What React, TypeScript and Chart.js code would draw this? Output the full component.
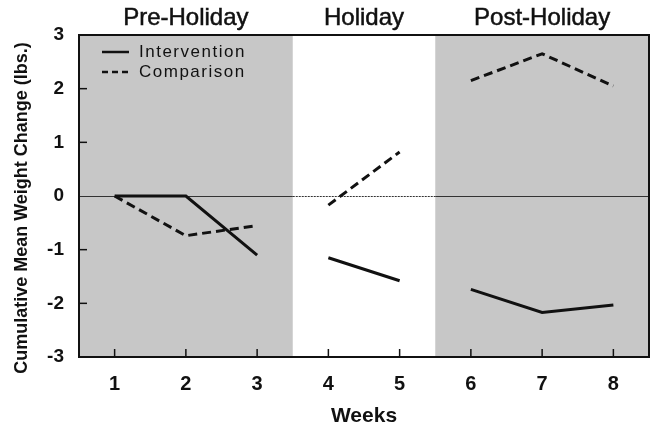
import { useEffect, useRef } from 'react';
import { Chart, registerables } from 'chart.js';
Chart.register(...registerables);

const weeks = [1, 2, 3, 4, 5, 6, 7, 8];
const phaseNames = ['Pre-Holiday', 'Holiday', 'Post-Holiday'];
const phaseWeeks = [[1, 2, 3], [4, 5], [6, 7, 8]];
const phaseShaded = [true, false, true];
const intervention = [0, 0, -1.1, -1.15, -1.58, -1.74, -2.17, -2.03];
const comparison = [0, -0.74, -0.55, -0.17, 0.82, 2.15, 2.65, 2.05];
const yTicks = [-3, -2, -1, 0, 1, 2, 3];
const seriesNames = ['Intervention', 'Comparison'];
const xTitle = 'Weeks';
const yTitle = 'Cumulative Mean Weight Change (lbs.)';

const FONT = '"Liberation Sans", Arial, Helvetica, sans-serif';
const GRAY = '#c7c7c7';

function buildPoints(values: number[]) {
  const pts: { x: number; y: number | null }[] = [];
  phaseWeeks.forEach((ws, pi) => {
    ws.forEach((w) => pts.push({ x: w, y: values[weeks.indexOf(w)] }));
    if (pi < phaseWeeks.length - 1) pts.push({ x: ws[ws.length - 1] + 0.5, y: null });
  });
  return pts;
}

const decor = {
  id: 'decor',
  beforeDatasetsDraw(chart: any) {
    const { ctx, chartArea: a, scales } = chart;
    const x = scales.x, y = scales.y;
    ctx.save();
    phaseWeeks.forEach((ws, i) => {
      if (!phaseShaded[i]) return;
      const l = x.getPixelForValue(ws[0] - 0.5);
      const r = x.getPixelForValue(ws[ws.length - 1] + 0.5);
      ctx.fillStyle = GRAY;
      ctx.fillRect(l, a.top, r - l, a.bottom - a.top);
    });
    const y0 = Math.round(y.getPixelForValue(0)) + 0.5;
    phaseWeeks.forEach((ws, i) => {
      const l = x.getPixelForValue(ws[0] - 0.5);
      const r = x.getPixelForValue(ws[ws.length - 1] + 0.5);
      ctx.beginPath();
      ctx.strokeStyle = '#333';
      ctx.lineWidth = 1;
      ctx.setLineDash(phaseShaded[i] ? [] : [2, 1]);
      ctx.moveTo(l, y0);
      ctx.lineTo(r, y0);
      ctx.stroke();
    });
    ctx.setLineDash([]);
    ctx.restore();
  },
  afterDatasetsDraw(chart: any) {
    const { ctx, chartArea: a, scales } = chart;
    const x = scales.x, y = scales.y;
    ctx.save();
    ctx.strokeStyle = '#111';
    ctx.lineWidth = 2;
    ctx.beginPath();
    ctx.moveTo(a.left, a.top);
    ctx.lineTo(a.right, a.top);
    ctx.lineTo(a.right, a.bottom);
    ctx.lineTo(a.left, a.bottom);
    ctx.closePath();
    ctx.stroke();
    ctx.lineWidth = 1.5;
    yTicks.forEach((v) => {
      if (v === 3 || v === -3 || v === 0) return;
      const py = y.getPixelForValue(v);
      ctx.beginPath();
      ctx.moveTo(a.left, py);
      ctx.lineTo(a.left + 8, py);
      ctx.stroke();
    });
    weeks.forEach((w) => {
      const px = x.getPixelForValue(w);
      ctx.beginPath();
      ctx.moveTo(px, a.bottom);
      ctx.lineTo(px, a.bottom - 8);
      ctx.stroke();
    });
    // phase headers
    ctx.fillStyle = '#111';
    ctx.strokeStyle = '#111';
    ctx.font = `24px ${FONT}`;
    ctx.textAlign = 'center';
    ctx.textBaseline = 'middle';
    ctx.lineWidth = 0.5;
    phaseWeeks.forEach((ws, i) => {
      const c = x.getPixelForValue((ws[0] + ws[ws.length - 1]) / 2);
      ctx.fillText(phaseNames[i], c, 18);
      ctx.strokeText(phaseNames[i], c, 18);
    });
    // axis titles
    ctx.font = `bold 21px ${FONT}`;
    ctx.fillText(xTitle, (a.left + a.right) / 2, 416);
    ctx.save();
    ctx.translate(22, 208);
    ctx.rotate(-Math.PI / 2);
    ctx.font = `bold 18px ${FONT}`;
    ctx.fillText(yTitle, 0, 0);
    ctx.restore();
    // legend
    const lx = a.left + 23;
    ctx.font = `17px ${FONT}`;
    (ctx as any).letterSpacing = '1.5px';
    ctx.textAlign = 'left';
    seriesNames.forEach((n, i) => {
      const ly = a.top + 17 + i * 20;
      ctx.beginPath();
      ctx.lineWidth = 2.5;
      ctx.setLineDash(i === 0 ? [] : [6, 4]);
      ctx.moveTo(lx, ly);
      ctx.lineTo(lx + 27, ly);
      ctx.stroke();
      ctx.setLineDash([]);
      ctx.fillText(n, lx + 37, ly);
    });
    ctx.restore();
  },
};

export default function App() {
  const ref = useRef<HTMLCanvasElement>(null);
  useEffect(() => {
    document.body.style.margin = '0';
    const chart = new Chart(ref.current!, {
      type: 'line',
      data: {
        datasets: [
          {
            label: seriesNames[0],
            data: buildPoints(intervention) as any,
            borderColor: '#111',
            borderWidth: 3,
            pointRadius: 0,
            spanGaps: false,
            tension: 0,
          },
          {
            label: seriesNames[1],
            data: buildPoints(comparison) as any,
            borderColor: '#111',
            borderWidth: 3,
            borderDash: [9, 5],
            pointRadius: 0,
            spanGaps: false,
            tension: 0,
          },
        ],
      },
      options: {
        responsive: false,
        animation: false,
        layout: { padding: { top: 35, right: 3, left: 0, bottom: 0 } },
        plugins: { legend: { display: false }, tooltip: { enabled: false } },
        scales: {
          x: {
            type: 'linear',
            min: 0.5,
            max: 8.5,
            afterBuildTicks: (s: any) => { s.ticks = weeks.map((v) => ({ value: v })); },
            afterFit: (s: any) => { s.height = 72; },
            grid: { display: false },
            border: { display: false },
            ticks: { color: '#111', font: { family: FONT, size: 20, weight: 'bold' }, padding: 7 },
          },
          y: {
            min: -3,
            max: 3,
            afterBuildTicks: (s: any) => { s.ticks = yTicks.map((v) => ({ value: v })); },
            afterFit: (s: any) => { s.width = 79; },
            grid: { display: false },
            border: { display: false },
            ticks: { color: '#111', font: { family: FONT, size: 19, weight: 'bold' }, padding: 7 },
          },
        },
      },
      plugins: [decor],
    });
    return () => chart.destroy();
  }, []);
  return <canvas ref={ref} width={652} height={429} style={{ display: 'block' }} />;
}
